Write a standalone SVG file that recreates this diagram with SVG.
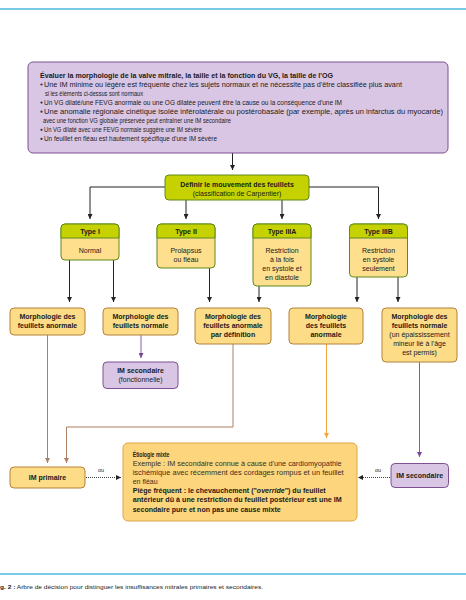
<svg xmlns="http://www.w3.org/2000/svg" width="466" height="600" viewBox="0 0 466 600">
<defs>
<style>
text{font-family:"Liberation Sans",Arial,sans-serif;font-size:7px;fill:#1a1a1a}
.b{font-weight:bold}
.c{text-anchor:middle}
.s{font-size:6.5px}
.pur{fill:#d9c6e4;stroke:#7d5192;stroke-width:1}
.grn{fill:#c5d200;stroke:#5e8a1a;stroke-width:1}
.yel{fill:#fddf8e;stroke:#5e8a1a;stroke-width:1}
.mor{fill:#fddc88;stroke:#b3823a;stroke-width:1}
.mix{fill:#fcd57c;stroke:#e3a548;stroke-width:1}
.k{fill:none;stroke:#222;stroke-width:1;marker-end:url(#ak)}
.br{fill:none;stroke:#ad7f63;stroke-width:1;marker-end:url(#abr)}
.pu{fill:none;stroke:#8c5aa5;stroke-width:1;marker-end:url(#apu)}
.or{fill:none;stroke:#f2a33a;stroke-width:1;marker-end:url(#aor)}
.dt{fill:none;stroke:#444;stroke-width:1;stroke-dasharray:1 1;marker-end:url(#ak)}
.ou{font-size:5.5px}
.m{fill:#3a3020}
</style>
<marker id="ak" viewBox="0 0 10 10" refX="10" refY="5" markerWidth="5" markerHeight="5" orient="auto" markerUnits="userSpaceOnUse"><path d="M0,0 L10,5 L0,10 z" fill="#222"/></marker>
<marker id="abr" viewBox="0 0 10 10" refX="10" refY="5" markerWidth="5" markerHeight="5" orient="auto" markerUnits="userSpaceOnUse"><path d="M0,0 L10,5 L0,10 z" fill="#ad7f63"/></marker>
<marker id="apu" viewBox="0 0 10 10" refX="10" refY="5" markerWidth="5" markerHeight="5" orient="auto" markerUnits="userSpaceOnUse"><path d="M0,0 L10,5 L0,10 z" fill="#7a4497"/></marker>
<marker id="aor" viewBox="0 0 10 10" refX="10" refY="5" markerWidth="5" markerHeight="5" orient="auto" markerUnits="userSpaceOnUse"><path d="M0,0 L10,5 L0,10 z" fill="#f2a33a"/></marker>
</defs>
<rect width="466" height="600" fill="#fff"/>
<line x1="0" y1="9" x2="466" y2="9" stroke="#4db8dd" stroke-width="1.5"/>
<line x1="0" y1="574" x2="466" y2="574" stroke="#4db8dd" stroke-width="1.5"/>
<text x="0" y="589" style="font-size:5.8px" textLength="263" lengthAdjust="spacingAndGlyphs"><tspan class="b">g. 2 :</tspan> Arbre de décision pour distinguer les insuffisances mitrales primaires et secondaires.</text>

<g id="connectors">
<path class="k" d="M232.5,153 V170"/>
<path class="k" d="M165,187 H90 V219"/>
<path class="k" d="M309,187 H378.5 V219"/>
<path class="k" d="M186,200 V219"/>
<path class="k" d="M282,200 V219"/>
<path class="k" d="M69.5,260 V302"/>
<path class="k" d="M113.5,260 V302"/>
<path class="k" d="M209.5,268 V302"/>
<path class="k" d="M259,286 V302"/>
<path class="k" d="M357,277 V302"/>
<path class="k" d="M398,277 V302"/>
<path class="pu" d="M141,335 V358"/>
<path class="br" d="M47.5,335 V463"/>
<path class="br" d="M233,344 V427 H66.5 V463"/>
<path class="or" d="M326.5,344 V438"/>
<path class="pu" d="M419.5,362 V457"/>
<path class="dt" d="M86,477.5 H121"/>
<path class="dt" d="M390,477.5 H358"/>
<text class="ou c" x="101" y="472">ou</text>
<text class="ou c" x="378" y="472">ou</text>
</g>

<g id="evaluer">
<rect class="pur" x="28" y="62" width="420" height="91" rx="5"/>
<text class="b s" x="40" y="77.5" textLength="293" lengthAdjust="spacingAndGlyphs">Évaluer la morphologie de la valve mitrale, la taille et la fonction du VG, la taille de l'OG</text>
<g fill="#333"><circle cx="41.5" cy="84.5" r="1.1"/><circle cx="41.5" cy="102.6" r="1.1"/><circle cx="41.5" cy="111.7" r="1.1"/><circle cx="41.5" cy="129.8" r="1.1"/><circle cx="41.5" cy="138.9" r="1.1"/></g>
<text class="s" x="44" y="86.6" textLength="358" lengthAdjust="spacingAndGlyphs">Une IM minime ou légère est fréquente chez les sujets normaux et ne nécessite pas d'être classifiée plus avant</text>
<text class="s" x="45" y="95.6" textLength="98" lengthAdjust="spacingAndGlyphs">si les éléments ci-dessus sont normaux</text>
<text class="s" x="44" y="104.7" textLength="298" lengthAdjust="spacingAndGlyphs">Un VG dilaté/une FEVG anormale ou une OG dilatée peuvent être la cause ou la conséquence d'une IM</text>
<text class="s" x="44" y="113.8" textLength="399" lengthAdjust="spacingAndGlyphs">Une anomalie régionale cinétique isolée inférolatérale ou postérobasale (par exemple, après un infarctus du myocarde)</text>
<text class="s" x="43" y="122.8" textLength="188" lengthAdjust="spacingAndGlyphs">avec une fonction VG globale préservée peut entraîner une IM secondaire</text>
<text class="s" x="44" y="131.9" textLength="158" lengthAdjust="spacingAndGlyphs">Un VG dilaté avec une FEVG normale suggère une IM sévère</text>
<text class="s" x="44" y="141" textLength="173" lengthAdjust="spacingAndGlyphs">Un feuillet en fléau est hautement spécifique d'une IM sévère</text>
</g>

<g id="definir">
<rect class="grn" x="165" y="175" width="144" height="25" rx="4"/>
<text class="b c" x="237" y="186.5">Définir le mouvement des feuillets</text>
<text class="c" x="237" y="195.8">(classification de Carpentier)</text>
</g>

<g id="type1">
<rect class="yel" x="61" y="224" width="58" height="36" rx="4"/>
<path class="grn" d="M61,238 V228 a4,4 0 0 1 4,-4 H115 a4,4 0 0 1 4,4 V238 Z"/>
<text class="b c" x="90" y="234">Type I</text>
<text class="c" x="90" y="252.5">Normal</text>
</g>
<g id="type2">
<rect class="yel" x="157" y="224" width="58" height="44" rx="4"/>
<path class="grn" d="M157,238 V228 a4,4 0 0 1 4,-4 H211 a4,4 0 0 1 4,4 V238 Z"/>
<text class="b c" x="186" y="234">Type II</text>
<text class="c" x="186" y="252.5">Prolapsus</text>
<text class="c" x="186" y="261.5">ou fléau</text>
</g>
<g id="type3a">
<rect class="yel" x="253" y="224" width="58" height="62" rx="4"/>
<path class="grn" d="M253,238 V228 a4,4 0 0 1 4,-4 H307 a4,4 0 0 1 4,4 V238 Z"/>
<text class="b c" x="282" y="234">Type IIIA</text>
<text class="c" x="282" y="252.5">Restriction</text>
<text class="c" x="282" y="261.5">à la fois</text>
<text class="c" x="282" y="270.7">en systole et</text>
<text class="c" x="282" y="279.7">en diastole</text>
</g>
<g id="type3b">
<rect class="yel" x="349.5" y="224" width="58" height="53" rx="4"/>
<path class="grn" d="M349.5,238 V228 a4,4 0 0 1 4,-4 H403.5 a4,4 0 0 1 4,4 V238 Z"/>
<text class="b c" x="378.5" y="234">Type IIIB</text>
<text class="c" x="378.5" y="252.5">Restriction</text>
<text class="c" x="378.5" y="261.5">en systole</text>
<text class="c" x="378.5" y="270.7">seulement</text>
</g>

<g id="morph1">
<rect class="mor" x="10" y="308" width="75" height="27" rx="4"/>
<text class="b c" x="47.5" y="318.5">Morphologie des</text>
<text class="b c" x="47.5" y="327.8">feuillets anormale</text>
</g>
<g id="morph2">
<rect class="mor" x="103" y="308" width="75" height="27" rx="4"/>
<text class="b c" x="140.5" y="318.5">Morphologie des</text>
<text class="b c" x="140.5" y="327.8">feuillets normale</text>
</g>
<g id="morph3">
<rect class="mor" x="195" y="308" width="76" height="36" rx="4"/>
<text class="b c" x="233" y="318.5">Morphologie des</text>
<text class="b c" x="233" y="327.8">feuillets anormale</text>
<text class="b c" x="233" y="337">par définition</text>
</g>
<g id="morph4">
<rect class="mor" x="289" y="308" width="74" height="36" rx="4"/>
<text class="b c" x="326" y="318.5">Morphologie</text>
<text class="b c" x="326" y="327.8">des feuillets</text>
<text class="b c" x="326" y="337">anormale</text>
</g>
<g id="morph5">
<rect class="mor" x="382" y="308" width="75" height="54" rx="4"/>
<text class="b c" x="419.5" y="318.5">Morphologie des</text>
<text class="b c" x="419.5" y="327.8">feuillets normale</text>
<text class="c" x="419.5" y="337">(un épaississement</text>
<text class="c" x="419.5" y="346">mineur lié à l'âge</text>
<text class="c" x="419.5" y="355">est permis)</text>
</g>

<g id="imsecfonc">
<rect class="pur" x="103" y="362" width="75" height="26.5" rx="4"/>
<text class="b c" x="140.5" y="373.3">IM secondaire</text>
<text class="c" x="140.5" y="382.3">(fonctionnelle)</text>
</g>

<g id="imprimaire">
<rect class="mor" x="10" y="467" width="75" height="21" rx="4"/>
<text class="b c" x="47.5" y="480">IM primaire</text>
</g>

<g id="mixte">
<rect class="mix" x="123" y="443" width="234" height="78" rx="5"/>
<text class="b" x="132.7" y="456.7" textLength="36.7" lengthAdjust="spacingAndGlyphs">Étiologie mixte</text>
<text class="m" x="132.7" y="465.8" textLength="209" lengthAdjust="spacingAndGlyphs">Exemple : IM secondaire connue à cause d'une cardiomyopathie</text>
<text class="m" x="132.7" y="475" textLength="211" lengthAdjust="spacingAndGlyphs">ischémique avec récemment des cordages rompus et un feuillet</text>
<text class="m" x="132.7" y="484.1">en fléau</text>
<text class="b" x="132.7" y="493.3" textLength="193" lengthAdjust="spacingAndGlyphs">Piège fréquent : le chevauchement ("<tspan font-style="italic">override</tspan>") du feuillet</text>
<text class="b" x="132.7" y="502.4" textLength="209" lengthAdjust="spacingAndGlyphs">antérieur dû à une restriction du feuillet postérieur est une IM</text>
<text class="b" x="132.7" y="511.6" textLength="148" lengthAdjust="spacingAndGlyphs">secondaire pure et non pas une cause mixte</text>
</g>

<g id="imsec">
<rect class="pur" x="391" y="463.5" width="57.5" height="24" rx="4"/>
<text class="b c" x="419.7" y="478.3">IM secondaire</text>
</g>
</svg>
